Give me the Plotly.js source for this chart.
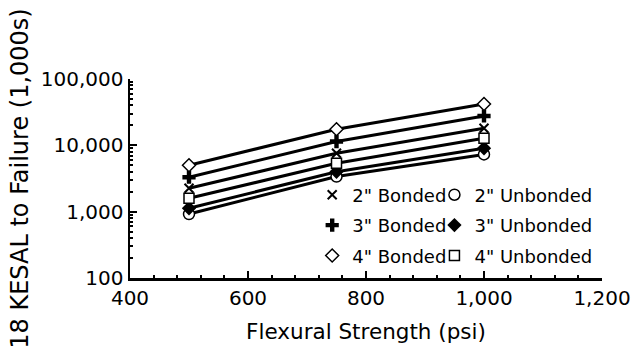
<!DOCTYPE html>
<html>
<head>
<meta charset="utf-8">
<script src="https://cdn.plot.ly/plotly-3.0.1.min.js"></script>
<style>
  html, body { margin: 0; padding: 0; background: #fff; }
  #chart { width: 634px; height: 349px; }
</style>
</head>
<body>
<div id="chart"></div>
<script>
// Flexural strength (psi) at which each pavement design was evaluated
const strength = [500, 750, 1000];

// 18 KESAL to failure (1,000s) per overlay thickness / bond condition
const bonded2 = [2250, 7600, 18100];
const unbonded2 = [920, 3380, 7300];
const bonded3 = [3300, 11400, 27700];
const unbonded3 = [1125, 4000, 9040];
const bonded4 = [5000, 17500, 42000];
const unbonded4 = [1590, 5370, 12800];

const seriesNames = ['2" Bonded', '3" Bonded', '4" Bonded', '2" Unbonded', '3" Unbonded', '4" Unbonded'];
const seriesValues = [bonded2, bonded3, bonded4, unbonded2, unbonded3, unbonded4];

// y-axis tick labels
const yTickVals = [100, 1000, 10000, 100000];
const yTickText = ['100', '1,000', '10,000', '100,000'];

const FONT = 'DejaVu Sans, sans-serif';

const markerStyles = [
  {symbol: 'x-thin-open', size: 9, color: '#000', line: {color: '#000', width: 2}},
  {symbol: 'cross', size: 11, color: '#000', line: {color: '#000', width: 0}},
  {symbol: 'diamond', size: 10, color: '#fff', line: {color: '#000', width: 1.5}},
  {symbol: 'circle', size: 11, color: '#fff', line: {color: '#000', width: 1.5}},
  {symbol: 'diamond', size: 11, color: '#000', line: {color: '#000', width: 0}},
  {symbol: 'square', size: 10, color: '#fff', line: {color: '#000', width: 1.5}}
];
// bonded designs listed in the left legend column, unbonded in the right one
const legendIds = ['legend', 'legend', 'legend', 'legend2', 'legend2', 'legend2'];

const traces = [];
// connecting lines first so the symbols sit on top
seriesValues.forEach((vals) => {
  traces.push({
    x: strength, y: vals, type: 'scatter', mode: 'lines',
    line: {color: '#000', width: 3},
    showlegend: false, hoverinfo: 'skip'
  });
});
seriesValues.forEach((vals, i) => {
  traces.push({
    x: strength, y: vals, type: 'scatter', mode: 'markers',
    name: seriesNames[i], marker: markerStyles[i],
    legend: legendIds[i], legendgroup: 'g' + i
  });
});

const legendCommon = {
  orientation: 'v',
  yanchor: 'top',
  bgcolor: 'rgba(0,0,0,0)',
  font: {family: FONT, size: 18, color: '#000'},
  itemwidth: 30,
  tracegroupgap: 4
};

const layout = {
  width: 634, height: 349,
  margin: {l: 130, r: 32, t: 79, b: 71},
  paper_bgcolor: '#fff', plot_bgcolor: '#fff',
  font: {family: FONT, color: '#000', size: 19},
  showlegend: true,
  legend: Object.assign({}, legendCommon, {x: 0.386, xanchor: 'left', y: 0.51}),
  legend2: Object.assign({}, legendCommon, {x: 0.645, xanchor: 'left', y: 0.51}),
  xaxis: {
    type: 'linear', range: [400, 1200],
    dtick: 200, tick0: 400, tickformat: ',d',
    showgrid: false, zeroline: false,
    showline: true, linecolor: '#000', linewidth: 2.5,
    ticks: 'inside', ticklen: 7, tickwidth: 2, tickcolor: '#000',
    minor: {dtick: 40, ticks: 'inside', ticklen: 3, tickwidth: 2, tickcolor: '#000', showgrid: false},
    tickfont: {family: FONT, size: 20, color: '#000'},
    title: {text: 'Flexural Strength (psi)', font: {family: FONT, size: 21.5, color: '#000'}, standoff: 16}
  },
  yaxis: {
    type: 'log', range: [2, 5],
    tickmode: 'array', tickvals: yTickVals, ticktext: yTickText,
    showgrid: false, zeroline: false,
    showline: true, linecolor: '#000', linewidth: 2.5,
    ticks: 'inside', ticklen: 7, tickwidth: 2, tickcolor: '#000',
    minor: {dtick: 'D1', ticks: 'inside', ticklen: 3, tickwidth: 2, tickcolor: '#000', showgrid: false},
    tickfont: {family: FONT, size: 20, color: '#000'},
    title: {text: '18 KESAL to Failure (1,000s)', font: {family: FONT, size: 24, color: '#000'}, standoff: 6}
  }
};

Plotly.newPlot('chart', traces, layout, {displayModeBar: false, staticPlot: true});
</script>
</body>
</html>
